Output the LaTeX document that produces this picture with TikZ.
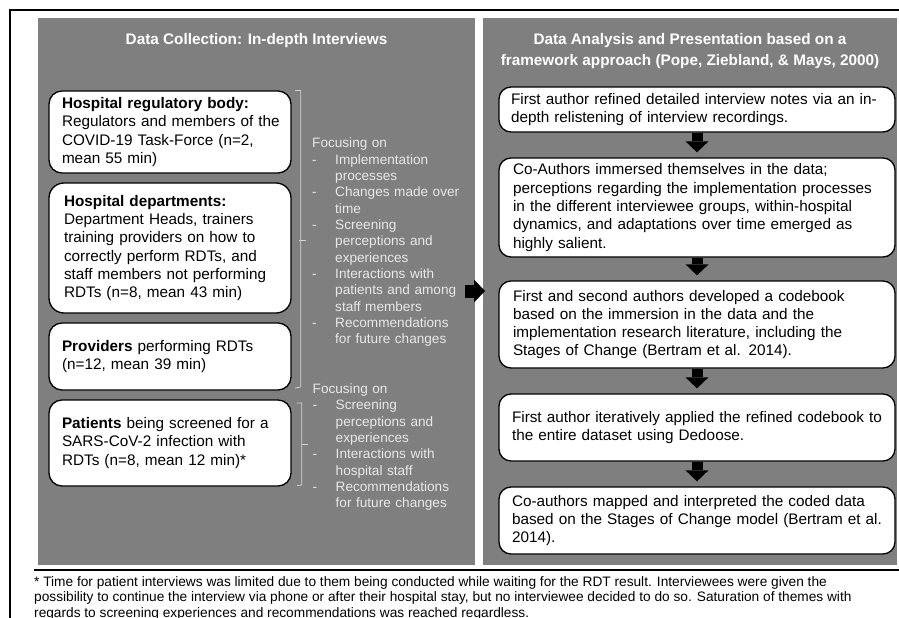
\documentclass[tikz,border=0pt]{standalone}
\usepackage{fontspec}
\setmainfont{Liberation Sans}
\usetikzlibrary{arrows.meta}
\definecolor{panelgray}{HTML}{7F7F7F}
\definecolor{lighttext}{HTML}{E8E8E8}
\definecolor{bracketgray}{HTML}{D4D4D4}
\begin{document}
\begin{tikzpicture}[x=1pt,y=-1pt,
  panel/.style={fill=panelgray, draw=none, inner sep=0pt, anchor=north west},
  paneltitle/.style={text=white, font=\fontsize{15.3}{21}\selectfont\bfseries, align=center, inner sep=0pt},
  lbox/.style={draw=black, line width=1.3pt, fill=white, rounded corners=13pt, text width=216pt, inner xsep=13pt, inner ysep=0pt, align=left, minimum width=242pt, font=\fontsize{15.3}{18.2}\selectfont},
  rbox/.style={draw=black, line width=1.3pt, fill=white, rounded corners=12pt, text width=372pt, inner xsep=12pt, inner ysep=0pt, align=left, minimum width=396pt, font=\fontsize{15.3}{18.3}\selectfont},
  focus/.style={text=lighttext, font=\fontsize{13.6}{16.35}\selectfont, anchor=north west, inner sep=0pt, text width=160pt, align=left},
  blockarrow/.style={line width=11pt, -{Triangle[width=23pt,length=11pt,line width=0pt]}},
  bracket/.style={draw=bracketgray, line width=0.8pt},
  frameline/.style={draw=black, line width=1.6pt},
  footnote/.style={anchor=north west, inner sep=0pt, align=left, font=\fontsize{13.7}{15.5}\selectfont}
]
\useasboundingbox (0,0) rectangle (899,618);
\fill[white] (0,0) rectangle (899,618);

% outer frame
\draw[frameline] (10,618) -- (10,10) -- (899,10);

% panels
\node[panel, minimum width=437pt, minimum height=547pt] (lp) at (38,18) {};
\node[panel, minimum width=414pt, minimum height=547pt] (rp) at (483,18) {};

% titles
\node[paneltitle] (lt) at (256.5,40.5) {Data Collection: In-depth Interviews};
\node[paneltitle] (rt) at (690,51) {Data Analysis and Presentation based on a\\framework approach (Pope, Ziebland, \& Mays, 2000)};

% left boxes
\node[lbox, minimum height=82pt] (b1) at (170,132) {\textbf{Hospital regulatory body:}\\\mbox{Regulators and members of the}\\\mbox{COVID-19 Task-Force (n=2,}\\mean 55 min)};
\node[lbox, minimum height=130pt, rounded corners=15pt] (b2) at (170,248) {\hspace*{2pt}\textbf{Hospital departments:}\\\hspace*{2pt}\mbox{Department Heads, trainers}\\\hspace*{2pt}\mbox{training providers on how to}\\\hspace*{2pt}\mbox{correctly perform RDTs, and}\\\hspace*{2pt}\mbox{staff members not performing}\\\hspace*{2pt}\mbox{RDTs (n=8, mean 43 min)}};
\node[lbox, minimum height=67pt] (b3) at (170,356.5) {\mbox{\textbf{Providers} performing RDTs}\\(n=12, mean 39 min)};
\node[lbox, minimum height=86pt] (b4) at (170,443) {\mbox{\textbf{Patients} being screened for a}\\\mbox{SARS-CoV-2 infection with}\\\mbox{RDTs (n=8, mean 12 min)*}};

% brackets
\draw[bracket] (295,90.5) -- (300.7,90.5) -- (300.7,387) -- (295,388);
\draw[bracket] (299,240) -- (305.5,240);
\draw[bracket] (297,403) -- (301.7,403) -- (301.7,485) -- (297,485.5);
\draw[bracket] (301.7,444) -- (308,444);

% focus lists
\node[focus] (f1) at (312,137.6) {Focusing on\\
-\hspace{18.5pt}Implementation\\\hspace*{23pt}processes\\
-\hspace{18.5pt}Changes made over\\\hspace*{23pt}time\\
-\hspace{18.5pt}Screening\\\hspace*{23pt}perceptions and\\\hspace*{23pt}experiences\\
-\hspace{18.5pt}Interactions with\\\hspace*{23pt}patients and among\\\hspace*{23pt}staff members\\
-\hspace{18.5pt}Recommendations\\\hspace*{23pt}for future changes};
\node[focus] (f2) at (312.5,383.4) {Focusing on\\
-\hspace{18.5pt}Screening\\\hspace*{23pt}perceptions and\\\hspace*{23pt}experiences\\
-\hspace{18.5pt}Interactions with\\\hspace*{23pt}hospital staff\\
-\hspace{18.5pt}Recommendations\\\hspace*{23pt}for future changes};

% right boxes
\node[rbox, minimum height=45pt] (r1) at (697,109.5) {\mbox{First author refined detailed interview notes via an in-}\\depth relistening of interview recordings.};
\node[rbox, minimum height=99pt] (r2) at (697,207.5) {\hspace*{2pt}Co-Authors immersed themselves in the data;\\\hspace*{2pt}\mbox{perceptions regarding the implementation processes}\\\hspace*{2pt}\mbox{in the different interviewee groups, within-hospital}\\\hspace*{2pt}\mbox{dynamics, and adaptations over time emerged as}\\\hspace*{2pt}highly salient.};
\node[rbox, minimum height=87pt] (r3) at (697,324.5) {\hspace*{2pt}\mbox{First and second authors developed a codebook}\\\hspace*{2pt}\mbox{based on the immersion in the data and the}\\\hspace*{2pt}\mbox{implementation research literature, including the}\\\hspace*{2pt}\mbox{Stages of Change (Bertram et al. 2014).}};
\node[rbox, minimum height=67pt] (r4) at (697,427.5) {\hspace*{1pt}\mbox{First author iteratively applied the refined codebook to}\\\hspace*{1pt}the entire dataset using Dedoose.};
\node[rbox, minimum height=67pt] (r5) at (697,520.5) {\hspace*{1pt}\mbox{Co-authors mapped and interpreted the coded data}\\\hspace*{1pt}\mbox{based on the Stages of Change model (Bertram et al.}\\\hspace*{1pt}2014).};

% down arrows
\draw[blockarrow, shorten >=5pt] (r1.south) -- (r2.north);
\draw[blockarrow, shorten >=5pt] (r2.south) -- (r3.north);
\draw[blockarrow, shorten >=5pt] (r3.south) -- (r4.north);
\draw[blockarrow, shorten >=5pt] (r4.south) -- (r5.north);

% middle arrow
\coordinate (ma) at (465,291);
\draw[blockarrow, line width=13pt, shorten >=-2pt] (ma) -- (ma -| rp.west);

% footnote
\draw[black, line width=1.3pt] (34,570) -- (899,570);
\node[footnote] (fn) at (34,576) {\mbox{* Time for patient interviews was limited due to them being conducted while waiting for the RDT result. Interviewees were given the}\\\mbox{possibility to continue the interview via phone or after their hospital stay, but no interviewee decided to do so. Saturation of themes with}\\regards to screening experiences and recommendations was reached regardless.};
\end{tikzpicture}
\end{document}
